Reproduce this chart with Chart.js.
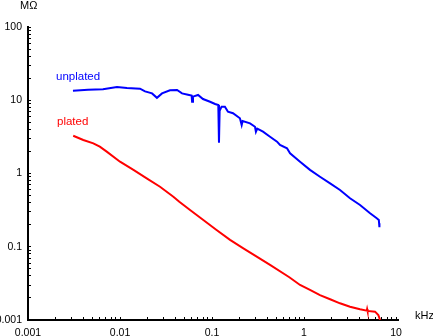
<!DOCTYPE html>
<html>
<head>
<meta charset="utf-8">
<title>Resistance vs frequency</title>
<script src="https://cdn.jsdelivr.net/npm/chart.js@4.4.1/dist/chart.umd.min.js"></script>
<style>
  html, body { margin: 0; padding: 0; background: #fff; }
  #chart { display: block; }
</style>
</head>
<body>
<canvas id="chart" width="433" height="336"></canvas>
<script>
// Frequency in kHz, resistance in MΩ
const freqUnplated = [0.00308, 0.00449, 0.00653, 0.00927, 0.0119, 0.0165, 0.0187, 0.0223, 0.0252, 0.0286,
    0.0349, 0.0417, 0.0472, 0.0548, 0.0600, 0.0607, 0.0621, 0.0705, 0.0798, 0.0951,
    0.108, 0.117, 0.119, 0.121, 0.127, 0.138, 0.149, 0.169, 0.201, 0.210,
    0.215, 0.259, 0.293, 0.300, 0.310, 0.358, 0.427, 0.509, 0.548, 0.653,
    0.705, 0.905, 1.16, 1.49, 1.92, 2.46, 3.16, 4.06, 5.22, 6.17,
    6.50, 6.58, 6.60];
const resUnplated = [13.5, 13.9, 14.1, 15.2, 14.7, 14.4, 13.2, 12.4, 10.8, 12.4,
    13.7, 13.8, 12.4, 11.9, 11.6, 9.55, 11.2, 11.8, 10.4, 9.55,
    8.89, 8.6, 2.63, 7.2, 8.17, 8.17, 6.98, 6.64, 5.67, 4.59,
    5.2, 4.84, 4.35, 3.72, 4.1, 3.72, 3.18, 2.72, 2.45, 2.21,
    1.89, 1.45, 1.12, 0.904, 0.735, 0.595, 0.459, 0.372, 0.286, 0.245,
    0.232, 0.19, 0.21];

const freqPlated = [0.00310, 0.00399, 0.00513, 0.00603, 0.00717, 0.0100, 0.0140, 0.0195, 0.0272, 0.0380,
    0.0441, 0.0577, 0.0804, 0.112, 0.157, 0.219, 0.306, 0.427, 0.692, 0.905,
    1.16, 1.49, 1.92, 2.46, 3.16, 4.06, 4.81, 4.85, 4.90, 5.91,
    6.42, 6.70];
const resPlated = [3.28, 2.87, 2.58, 2.32, 1.99, 1.45, 1.12, 0.859, 0.660, 0.482,
    0.412, 0.318, 0.232, 0.169, 0.124, 0.0953, 0.0731, 0.0564, 0.0383, 0.0301,
    0.0257, 0.0219, 0.0192, 0.0169, 0.0152, 0.0140, 0.0134, 0.0141, 0.0133, 0.0130,
    0.0117, 0.0100];

// Axis ticks
const xMajor = [0.001, 0.01, 0.1, 1, 10];
const xLabels = ['0.001', '0.01', '0.1', '1', '10'];
const yMajor = [0.01, 0.1, 1, 10, 100];
const yLabels = ['0.001', '0.1', '1', '10', '100'];
const minorSteps = [2, 3, 4, 5, 6, 7, 8, 9];

const blue = '#0000ff';
const red = '#ff0000';
const textFont = '"Liberation Sans", Arial, Helvetica, sans-serif';

function toPoints(xs, ys) {
    return xs.map((x, i) => ({ x: x, y: ys[i] }));
}

// major ticks plus 2..9 minor ticks in each decade
function logTicks(majors, max) {
    const ticks = [];
    majors.forEach(v => {
        ticks.push({ value: v });
        minorSteps.forEach(m => {
            if (v * m <= max) ticks.push({ value: v * m });
        });
    });
    return ticks;
}

function labelFor(majors, labels) {
    return (value) => {
        const i = majors.findIndex(v => Math.abs(v - value) / v < 1e-6);
        return i >= 0 ? labels[i] : '';
    };
}

// Curve names and axis units
const textLabels = {
    id: 'textLabels',
    afterDraw(chart) {
        const ctx = chart.ctx;
        ctx.save();
        ctx.textBaseline = 'middle';
        ctx.textAlign = 'left';
        ctx.font = '11.5px ' + textFont;
        ctx.fillStyle = blue;
        ctx.fillText('unplated', 56, 77);
        ctx.fillStyle = red;
        ctx.fillText('plated', 57, 122);
        ctx.fillStyle = '#000';
        ctx.font = '11px ' + textFont;
        ctx.fillText('M\u03A9', 20, 6);
        ctx.fillText('kHz', 415, 316);
        ctx.restore();
    }
};

function axisOptions(majors, labels, max, side) {
    return {
        type: 'logarithmic',
        min: majors[0],
        max: max,
        afterBuildTicks: (scale) => { scale.ticks = logTicks(majors, max); },
        afterFit: (scale) => {
            if (side === 'x') scale.height = 16;
            else scale.width = 28;
        },
        border: { display: true, color: '#000', width: 2 },
        grid: {
            drawOnChartArea: false,
            drawTicks: true,
            tickLength: -3,
            color: '#000',
            lineWidth: 1
        },
        ticks: {
            autoSkip: false,
            maxRotation: 0,
            padding: side === 'x' ? 10 : 9,
            color: '#000',
            font: { family: textFont, size: 10.5 },
            callback: labelFor(majors, labels)
        }
    };
}

const ctx = document.getElementById('chart').getContext('2d');
const chart = new Chart(ctx, {
    type: 'line',
    data: {
        datasets: [
            {
                label: 'unplated',
                data: toPoints(freqUnplated, resUnplated),
                borderColor: blue,
                borderWidth: 2,
                pointRadius: 0,
                tension: 0,
                fill: false
            },
            {
                label: 'plated',
                data: toPoints(freqPlated, resPlated),
                borderColor: red,
                borderWidth: 2,
                pointRadius: 0,
                tension: 0,
                fill: false
            }
        ]
    },
    options: {
        responsive: false,
        animation: false,
        layout: { padding: { left: 0, top: 27, right: 35, bottom: 0 } },
        plugins: {
            legend: { display: false },
            tooltip: { enabled: false }
        },
        scales: {
            x: axisOptions(xMajor, xLabels, 10.5, 'x'),
            y: axisOptions(yMajor, yLabels, 100, 'y')
        }
    },
    plugins: [textLabels]
});
</script>
</body>
</html>
